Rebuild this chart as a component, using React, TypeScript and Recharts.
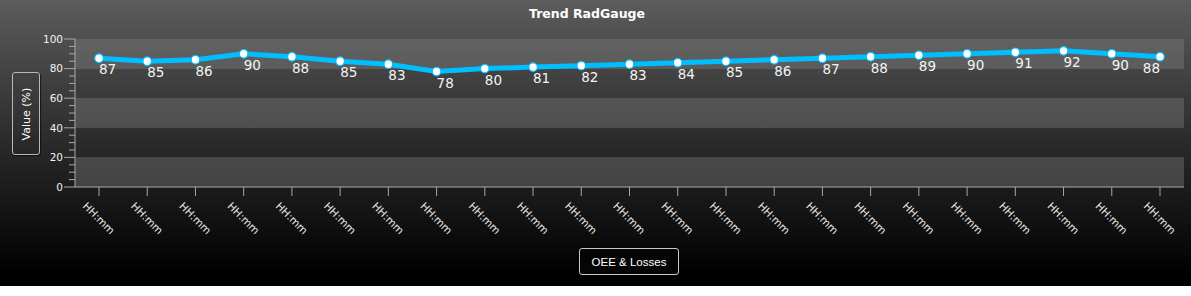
import React from "react";
import { LineChart, Line, XAxis, YAxis, CartesianGrid, LabelList } from "recharts";

const categories = [
  "HH:mm", "HH:mm", "HH:mm", "HH:mm", "HH:mm", "HH:mm", "HH:mm", "HH:mm",
  "HH:mm", "HH:mm", "HH:mm", "HH:mm", "HH:mm", "HH:mm", "HH:mm", "HH:mm",
  "HH:mm", "HH:mm", "HH:mm", "HH:mm", "HH:mm", "HH:mm", "HH:mm",
];
const values = [87, 85, 86, 90, 88, 85, 83, 78, 80, 81, 82, 83, 84, 85, 86, 87, 88, 89, 90, 91, 92, 90, 88];
const yMajorTicks = [0, 20, 40, 60, 80, 100];
const yAllTicks = [0, 5, 10, 15, 20, 25, 30, 35, 40, 45, 50, 55, 60, 65, 70, 75, 80, 85, 90, 95, 100];
const title = "Trend RadGauge";
const yAxisTitle = "Value (%)";
const seriesName = "OEE & Losses";

const data = categories.map((c, i) => ({ idx: i, cat: c, value: values[i] }));

const W = 1191;
const H = 286;
const FONT = "'DejaVu Sans', Verdana, sans-serif";
const AXIS_COLOR = "#a8a8a8";
const LINE_COLOR = "#00BFFF";

const YTick = (props: any) => {
  const { x, y, payload } = props;
  const v = payload.value;
  const major = yMajorTicks.includes(v);
  return (
    <g>
      <line x1={major ? x + 1 : x + 6} x2={x + 12} y1={y} y2={y} stroke={AXIS_COLOR} strokeWidth={1} />
      {major && (
        <text x={x} y={y} dy="0.36em" textAnchor="end" fill="#f2f2f2" fontSize={10.5} fontFamily={FONT}>
          {v}
        </text>
      )}
    </g>
  );
};

const XTick = (props: any) => {
  const { x, y, payload } = props;
  const cy = y + 20;
  return (
    <text
      x={x}
      y={cy}
      textAnchor="middle"
      dominantBaseline="central"
      transform={`rotate(45, ${x}, ${cy})`}
      fill="#e6e6e6"
      fontSize={10.5}
      fontFamily={FONT}
    >
      {categories[payload.value]}
    </text>
  );
};

const ValueLabel = (props: any) => {
  const { x, y, value, index } = props;
  const last = index === values.length - 1;
  return (
    <text
      x={x}
      y={y + 16}
      textAnchor={last ? "end" : "start"}
      fill="#f4f4f4"
      fontSize={13.5}
      fontFamily={FONT}
    >
      {value}
    </text>
  );
};

export default function App() {
  return (
    <div
      style={{
        position: "absolute",
        left: 0,
        top: 0,
        width: W,
        height: H,
        background: "linear-gradient(to bottom, #5c5c5c 0%, #2a2a2a 50%, #000000 96%, #000000 100%)",
        overflow: "hidden",
      }}
    >
      <div
        style={{
          position: "absolute",
          left: 0,
          width: W - 17,
          top: 6,
          textAlign: "center",
          color: "#ffffff",
          fontFamily: FONT,
          fontWeight: "bold",
          fontSize: 12.5,
        }}
      >
        {title}
      </div>
      <div
        style={{
          position: "absolute",
          left: 12,
          top: 72,
          width: 26,
          height: 81,
          border: "1px solid #b8b8b8",
          borderRadius: 3,
          boxShadow: "1px 1px 1px rgba(0,0,0,0.6)",
        }}
      >
        <div
          style={{
            position: "absolute",
            left: "50%",
            top: "50%",
            transform: "translate(-50%, -50%) rotate(-90deg)",
            whiteSpace: "nowrap",
            color: "#ffffff",
            fontFamily: FONT,
            fontSize: 11,
          }}
        >
          {yAxisTitle}
        </div>
      </div>
      <div
        style={{
          position: "absolute",
          left: 579,
          top: 248,
          width: 98,
          height: 25,
          border: "1px solid #c8c8c8",
          borderRadius: 3,
          background: "#050505",
          display: "flex",
          alignItems: "center",
          justifyContent: "center",
          color: "#ffffff",
          fontFamily: "'Liberation Sans', Arial, sans-serif",
          fontSize: 11.5,
        }}
      >
        {seriesName}
      </div>
      <div style={{ position: "absolute", left: 0, top: 0 }}>
        <LineChart width={W} height={H} data={data} margin={{ top: 39, right: 7, bottom: 39, left: 0 }}>
          <CartesianGrid
            vertical={false}
            horizontal={true}
            horizontalValues={yMajorTicks}
            horizontalFill={["rgba(128,128,128,0.4)", "rgba(0,0,0,0)"]}
            stroke="rgba(0,0,0,0)"
            strokeOpacity={0}
          />
          <XAxis
            dataKey="idx"
            type="category"
            padding={{ left: 24, right: 24 }}
            height={60}
            interval={0}
            tickSize={9}
            tickMargin={2}
            stroke={AXIS_COLOR}
            tickLine={{ stroke: AXIS_COLOR }}
            tick={<XTick />}
          />
          <YAxis
            type="number"
            domain={[0, 100]}
            ticks={yAllTicks}
            interval={0}
            width={75}
            tickSize={10}
            tickMargin={2}
            tickLine={false}
            stroke={AXIS_COLOR}
            tick={<YTick />}
          />
          <Line
            type="linear"
            dataKey="value"
            stroke={LINE_COLOR}
            strokeWidth={5}
            dot={{ r: 4.3, fill: "#ffffff", stroke: LINE_COLOR, strokeWidth: 1.2 }}
            activeDot={false}
            isAnimationActive={false}
          >
            <LabelList dataKey="value" content={<ValueLabel />} />
          </Line>
        </LineChart>
      </div>
    </div>
  );
}
